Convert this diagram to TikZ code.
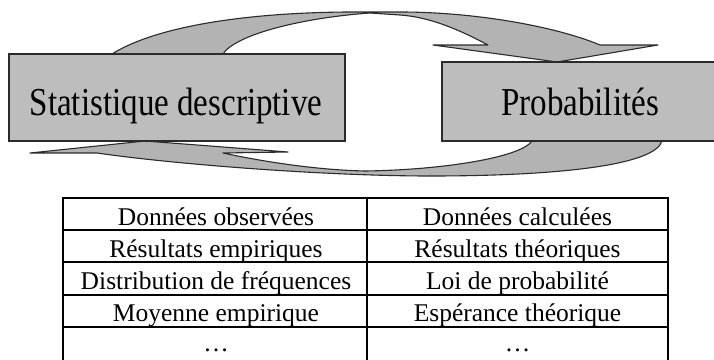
\documentclass[tikz,border=0pt]{standalone}
\usepackage{fontspec}
\setmainfont{Liberation Serif}
\usepackage{graphicx}
\definecolor{boxgray}{HTML}{BDBDBD}
\definecolor{arrowgray}{HTML}{B3B3B3}
\definecolor{edgecol}{HTML}{2B2B2B}
\tikzset{
  arrowshape/.style={fill=arrowgray, draw=edgecol, line width=1.1pt, line join=round},
  bigbox/.style={rectangle, fill=boxgray, draw=edgecol, line width=1.4pt, inner sep=0pt},
  bigtext/.style={anchor=base, inner sep=0pt, font=\fontsize{33}{40}\selectfont},
  celltext/.style={anchor=base, inner sep=0pt, font=\fontsize{25.5}{30}\selectfont},
  gridline/.style={line width=1.6pt, draw=black, line cap=rect}
}
\begin{document}
\begin{tikzpicture}[x=1pt,y=-1pt]
\useasboundingbox (0,0) rectangle (714,359);
% top curved arrow
\draw[arrowshape] (112,54) .. controls (150,30) and (230,13) .. (347,12) -- (400,12)
  .. controls (480,12) and (560,28) .. (600,45) -- (658,45) -- (557,62) -- (433,45) -- (488,45)
  .. controls (460,30) and (430,17) .. (400,15) -- (370,13)
  .. controls (300,18) and (235,35) .. (223,54) -- cycle;
% bottom curved arrow
\draw[arrowshape] (662,141) .. controls (655,165) and (560,176) .. (430,176)
  .. controls (330,176) and (180,165) .. (97,153) -- (30,153) -- (145,141) -- (288,152) -- (223,153)
  .. controls (270,163) and (320,170) .. (365,171)
  .. controls (440,170) and (520,158) .. (532,141) -- cycle;
% boxes
\node[bigbox, minimum width=336pt, minimum height=87pt] (stat) at (177,97.5) {};
\node[bigbox, minimum width=274pt, minimum height=79pt] (proba) at (579,101.5) {};
\node[bigtext] (stattext) at (176,115) {\scalebox{1}[1.2]{Statistique descriptive}};
\node[bigtext] (probatext) at (580,115) {\scalebox{1}[1.2]{Probabilités}};
% table
\draw[gridline] (63,198) -- (668,198);
\foreach \yy in {230,262,295,327} {\draw[gridline] (63,\yy) -- (668,\yy);}
\foreach \xx in {63,367,668} {\draw[gridline] (\xx,198) -- (\xx,370);}
\node[celltext] (a1) at (216,225) {Données observées};
\node[celltext] (b1) at (517.5,225) {Données calculées};
\node[celltext] (a2) at (216,257) {Résultats empiriques};
\node[celltext] (b2) at (517.5,257) {Résultats théoriques};
\node[celltext] (a3) at (216,289) {Distribution de fréquences};
\node[celltext] (b3) at (517.5,289) {Loi de probabilité};
\node[celltext] (a4) at (216,321) {Moyenne empirique};
\node[celltext] (b4) at (517.5,321) {Espérance théorique};
\node[celltext] (a5) at (216,351) {…};
\node[celltext] (b5) at (517.5,351) {…};
\end{tikzpicture}
\end{document}
